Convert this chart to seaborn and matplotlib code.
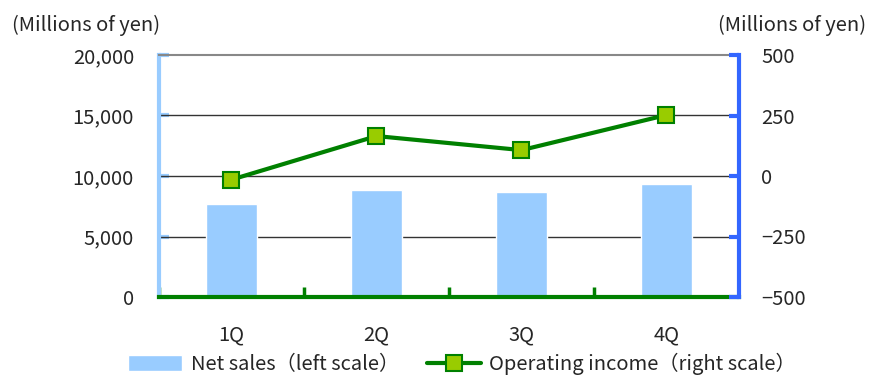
import numpy as np
import matplotlib
matplotlib.use("Agg")
import matplotlib.pyplot as plt
import seaborn as sns

# data
quarters = ["1Q", "2Q", "3Q", "4Q"]
net_sales = [7700, 8850, 8700, 9350]          # left scale, millions of yen
operating_income = [-15, 165, 107, 252]       # right scale, millions of yen

left_ticks = [0, 5000, 10000, 15000, 20000]
right_ticks = [-500, -250, 0, 250, 500]

sns.set_style("white")
plt.rcParams["font.family"] = ["Noto Sans CJK JP", "DejaVu Sans"]
fs = 14.5

fig = plt.figure(figsize=(8.7, 3.76), dpi=100)
ax = fig.add_axes([159 / 870, 1 - 297 / 376, 580 / 870, 242 / 376])

sns.barplot(x=quarters, y=net_sales, ax=ax, color="#99CCFF", width=0.345,
            saturation=1, label="Net sales（left scale）", zorder=2)
if ax.get_legend() is not None:
    ax.get_legend().remove()
ax.set_xlim(-0.5, 3.5)
ax.set_ylim(0, 20000)
ax.set_yticks(left_ticks)
ax.set_yticklabels([f"{v:,}" for v in left_ticks])
for v in left_ticks[1:-1]:
    ax.axhline(v, color="#333333", lw=1, zorder=1)

ax2 = ax.twinx()
sns.lineplot(x=np.arange(len(quarters)), y=operating_income, ax=ax2,
             color="#008000", lw=3, marker="s", markersize=11,
             markerfacecolor="#99CC00", markeredgecolor="#008000",
             markeredgewidth=1.5, label="Operating income（right scale）",
             legend=False, zorder=4)
ax2.set_ylim(-500, 500)
ax2.set_yticks(right_ticks)
ax2.set_yticklabels([str(v).replace("-", "−") for v in right_ticks])
ax2.set_xlim(-0.5, 3.5)

# spines
for a in (ax, ax2):
    for s in a.spines.values():
        s.set_visible(False)
ax.spines["left"].set_visible(True)
ax.spines["left"].set_color("#99CCFF")
ax.spines["left"].set_linewidth(3)
ax.spines["top"].set_visible(True)
ax.spines["top"].set_color("#888888")
ax.spines["top"].set_linewidth(1.5)
ax.spines["bottom"].set_visible(True)
ax.spines["bottom"].set_color("#008000")
ax.spines["bottom"].set_linewidth(3)
ax.spines["bottom"].set_zorder(5)
ax2.spines["right"].set_visible(True)
ax2.spines["right"].set_color("#3366FF")
ax2.spines["right"].set_linewidth(3)

ax.tick_params(axis="y", direction="in", length=7, width=3,
               color="#99CCFF", pad=18, labelsize=fs, left=True)
ax2.tick_params(axis="y", direction="in", length=7, width=3,
                color="#3366FF", pad=16, labelsize=fs, right=True)
ax.set_xticks([-0.5, 0.5, 1.5, 2.5], minor=True)
ax.tick_params(axis="x", which="minor", direction="in", length=7,
               width=2.5, color="#008000", bottom=True)
ax.tick_params(axis="x", which="major", length=0, pad=20, labelsize=fs)
ax.set_xlabel("")

fig.text(12 / 870, 1 - 25 / 376, "(Millions of yen)", ha="left",
         va="center", fontsize=fs)
fig.text(866 / 870, 1 - 25 / 376, "(Millions of yen)", ha="right",
         va="center", fontsize=fs)

h1, l1 = ax.get_legend_handles_labels()
h2, l2 = ax2.get_legend_handles_labels()
fig.legend(h1 + h2, l1 + l2, loc="center", bbox_to_anchor=(462 / 870, 1 - 364 / 376),
           ncol=2, frameon=False, handlelength=2.7, handleheight=0.8,
           columnspacing=1.4, handletextpad=0.4, fontsize=fs)

fig.savefig("out.png", dpi=100)
